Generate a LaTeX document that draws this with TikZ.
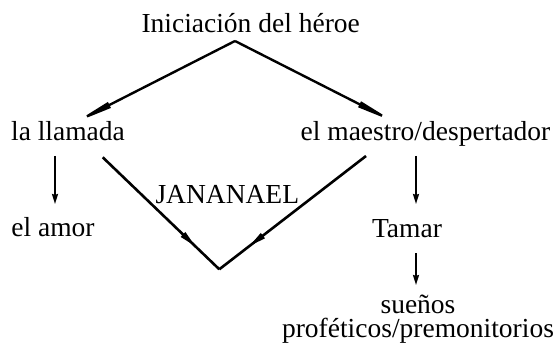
\documentclass[tikz,border=0pt]{standalone}
\usepackage{fontspec}
\setmainfont{Liberation Serif}
\usetikzlibrary{arrows.meta,decorations.markings}
\tikzset{
  lbl/.style={anchor=base,inner sep=0pt,outer sep=0pt,font=\fontsize{27.5}{33}\selectfont},
  toparrow/.style={line width=2.4pt,-{Triangle[length=42pt,width=6pt]}},
  downarrow/.style={line width=1.8pt,-{Stealth[length=10pt,width=6pt,inset=1pt]}},
  midarrow/.style={line width=2.6pt,postaction={decorate},
    decoration={markings,mark=at position 0.8 with {\arrow{Triangle[length=18pt,width=6pt]}}}}
}
\begin{document}
\begin{tikzpicture}[x=1pt,y=-1pt]
\useasboundingbox (0,0) rectangle (559,347);
\node[lbl] (title) at (250.7,33) {Iniciación del héroe};
\node[lbl] (llamada) at (68,140.7) {la llamada};
\node[lbl] (maestro) at (425.5,140.7) {el maestro/despertador};
\node[lbl] (amor) at (53,236.7) {el amor};
\node[lbl] (jan) at (227.3,204) {JANANAEL};
\node[lbl] (tamar) at (407,237.3) {Tamar};
\node[lbl,align=center] (suenos) at (418,337.3) {sueños\\[-9pt]proféticos/premonitorios};
\coordinate (vb) at (219.3,269.3);
\draw[toparrow] ([xshift=-15.7pt,yshift=-8pt]title.base) -- ([xshift=4pt,yshift=16.7pt]llamada.base);
\draw[toparrow] ([xshift=-15.7pt,yshift=-8pt]title.base) -- ([xshift=-28.5pt,yshift=17.4pt]maestro.base);
\draw[downarrow] ([xshift=-13pt,yshift=-15.3pt]llamada.base) -- ([xshift=2pt,yshift=32.7pt]amor.base);
\draw[midarrow] ([xshift=34.7pt,yshift=-16.6pt]llamada.base) -- (vb);
\draw[midarrow] ([xshift=-59.5pt,yshift=-15.3pt]maestro.base) -- (vb);
\draw[downarrow] ([xshift=-9.5pt,yshift=-15.3pt]maestro.base) -- ([xshift=9pt,yshift=33.3pt]tamar.base);
\draw[downarrow] ([xshift=9pt,yshift=-16pt]tamar.base) -- ([xshift=-2pt,yshift=52.3pt]suenos.base);
\end{tikzpicture}
\end{document}
